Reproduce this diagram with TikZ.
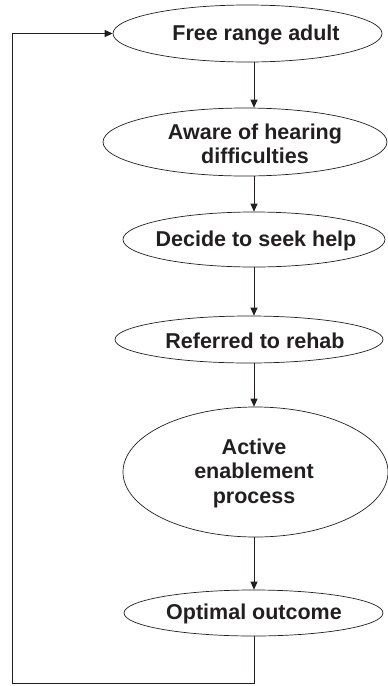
\documentclass[tikz,border=0pt]{standalone}
\usepackage{fontspec}
\setmainfont{Liberation Sans}
\usetikzlibrary{shapes.geometric,arrows.meta}
\definecolor{ink}{HTML}{231F20}
\begin{document}
\begin{tikzpicture}[x=1pt,y=-1pt,
  stage/.style={ellipse,draw=ink,line width=0.7pt,inner sep=0pt},
  caption/.style={align=center,inner sep=0pt,text=ink,
    font=\bfseries\fontsize{21.5}{24.5}\selectfont},
  flow/.style={draw=ink,line width=0.8pt,-{Triangle[length=8pt,width=7pt]}},
  back/.style={draw=ink,line width=0.8pt}]
\useasboundingbox (0,0) rectangle (388,686);

% the stages, each an ellipse with its caption on the common axis
\node[stage,minimum width=269pt,minimum height=57pt] (e1) at (247.5,33.5) {};
\node[stage,minimum width=284pt,minimum height=68pt] (e2) at (245,142) {};
\node[stage,minimum width=262pt,minimum height=55pt] (e3) at (254,239.5) {};
\node[stage,minimum width=268pt,minimum height=47pt] (e4) at (249,339.5) {};
\node[stage,minimum width=265pt,minimum height=130pt] (e5) at (255.5,472) {};
\node[stage,minimum width=259pt,minimum height=46pt] (e6) at (253.5,613) {};

\node[caption] (t1) at (256,35) {Free range adult};
\node[caption] (t2) at (255,144) {Aware of hearing\\difficulties};
\node[caption] (t3) at (256,241) {Decide to seek help};
\node[caption] (t4) at (255,341) {Referred to rehab};
\node[caption] (t5) at (254,473) {Active\\enablement\\process};
\node[caption] (t6) at (254,614) {Optimal outcome};

% downward flow along the axis
\coordinate (ax) at (254,0);
\draw[flow] (e1.south -| ax) -- (e2.north -| ax);
\draw[flow] (e2.south -| ax) -- (e3.north -| ax);
\draw[flow] (e3.south -| ax) -- (e4.north -| ax);
\draw[flow] (e4.south -| ax) -- (e5.north -| ax);
\draw[flow] (e5.south -| ax) -- (e6.north -| ax);

% return loop from the outcome back to the start
\coordinate (lb) at (254,683);
\coordinate (ll) at (12,683);
\coordinate (lt) at (12,33.5);
\draw[back] (e6.south -| ax) -- (lb) -- (ll) -- (lt);
\draw[flow] (lt) -- (e1.west);
\end{tikzpicture}
\end{document}
